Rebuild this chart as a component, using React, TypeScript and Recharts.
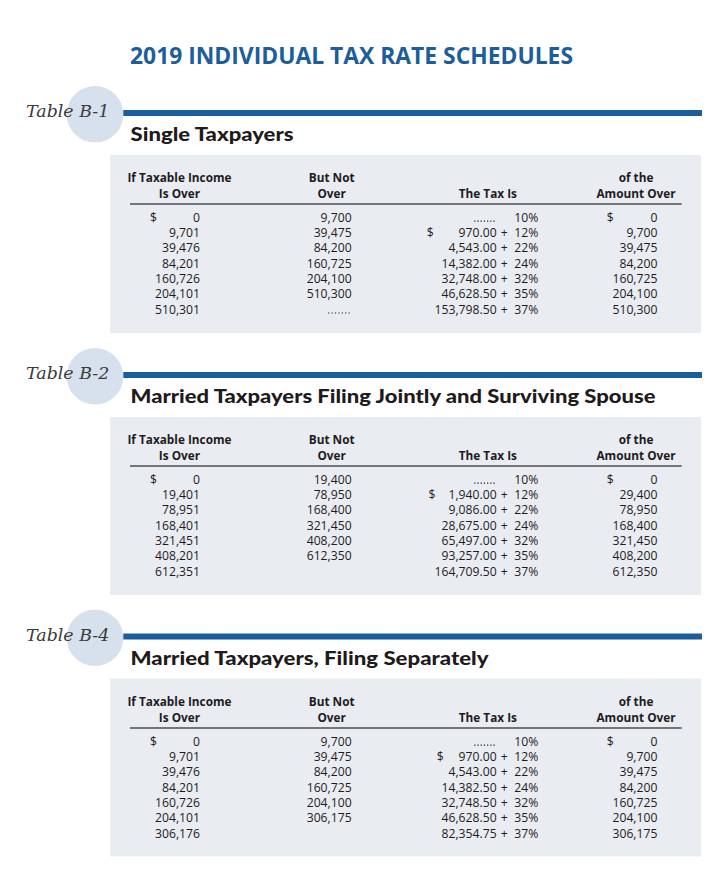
import React from 'react';
import { ScatterChart, Scatter, XAxis, YAxis } from 'recharts';

// ---------- data ----------
const pageTitle = '2019 INDIVIDUAL TAX RATE SCHEDULES';
const columnHeaders: string[][] = [
  ['If Taxable Income', 'Is Over'],
  ['But Not', 'Over'],
  ['', 'The Tax Is'],
  ['of the', 'Amount Over'],
];
const rates = [10, 12, 22, 24, 32, 35, 37];

const singleOver = [0, 9701, 39476, 84201, 160726, 204101, 510301];
const singleNotOver = [9700, 39475, 84200, 160725, 204100, 510300, null];
const singleBaseTax = [null, 970.0, 4543.0, 14382.0, 32748.0, 46628.5, 153798.5];
const singleAmountOver = [0, 9700, 39475, 84200, 160725, 204100, 510300];

const jointOver = [0, 19401, 78951, 168401, 321451, 408201, 612351];
const jointNotOver = [19400, 78950, 168400, 321450, 408200, 612350, null];
const jointBaseTax = [null, 1940.0, 9086.0, 28675.0, 65497.0, 93257.0, 164709.5];
const jointAmountOver = [0, 29400, 78950, 168400, 321450, 408200, 612350];

const separateOver = [0, 9701, 39476, 84201, 160726, 204101, 306176];
const separateNotOver = [9700, 39475, 84200, 160725, 204100, 306175, null];
const separateBaseTax = [null, 970.0, 4543.0, 14382.5, 32748.5, 46628.5, 82354.75];
const separateAmountOver = [0, 9700, 39475, 84200, 160725, 204100, 306175];

const tables = [
  { label: 'Table B-1', title: 'Single Taxpayers', over: singleOver, notOver: singleNotOver, baseTax: singleBaseTax, amountOver: singleAmountOver, openLeader: true },
  { label: 'Table B-2', title: 'Married Taxpayers Filing Jointly and Surviving Spouse', over: jointOver, notOver: jointNotOver, baseTax: jointBaseTax, amountOver: jointAmountOver, openLeader: false },
  { label: 'Table B-4', title: 'Married Taxpayers, Filing Separately', over: separateOver, notOver: separateNotOver, baseTax: separateBaseTax, amountOver: separateAmountOver, openLeader: false },
];

// ---------- layout / style ----------
const SECTION_OFFSETS = [0, 262, 523.5];
const TITLE_WIDTHS = [163, 525, 358];
const TAX_DOLLAR_DX = [-57.2, -55.4, -47.2];
const BLUE = '#1b5e9b';
const TEXT = '#1f1b1c';
const PANEL = '#e9edf2';
const CIRCLE = '#d6e1ed';
const FONT = "'Open Sans', 'Noto Sans', sans-serif";

const fmtInt = (v: number) => v.toLocaleString('en-US');
const fmtMoney = (v: number) =>
  v.toLocaleString('en-US', { minimumFractionDigits: 2, maximumFractionDigits: 2 });

type CellDatum = {
  col: number;
  row: number;
  value: number | null;
  rate?: number;
  dollar: boolean;
  leader: boolean;
  dollarDx: number;
};

function buildCells(t: (typeof tables)[number], tableIndex: number): CellDatum[] {
  const cells: CellDatum[] = [];
  t.over.forEach((_, i) => {
    cells.push({ col: 0, row: i, value: t.over[i], dollar: i === 0, leader: false, dollarDx: -29.5 });
    if (t.notOver[i] !== null || t.openLeader) {
      cells.push({ col: 1, row: i, value: t.notOver[i], dollar: false, leader: t.notOver[i] === null, dollarDx: 0 });
    }
    cells.push({ col: 2, row: i, value: t.baseTax[i], rate: rates[i], dollar: i === 1, leader: t.baseTax[i] === null, dollarDx: TAX_DOLLAR_DX[tableIndex] });
    cells.push({ col: 3, row: i, value: t.amountOver[i], dollar: i === 0, leader: false, dollarDx: -29.4 });
  });
  return cells;
}

const textProps = { fontFamily: FONT, fontSize: 12.2, fontWeight: 500, fill: TEXT };

const CellShape = (props: any) => {
  const { cx, cy } = props;
  const d: CellDatum = props.payload ?? props;
  if (cx == null || cy == null) return null;
  const by = cy + 4.3;
  const parts: React.ReactNode[] = [];
  if (d.col === 0 || d.col === 1 || d.col === 3) {
    const rightDx = d.col === 0 ? 20.5 : d.col === 1 ? 20 : 21.4;
    if (d.leader) {
      parts.push(
        <line key="l" x1={cx + rightDx - 23.5} x2={cx + rightDx} y1={by - 0.6} y2={by - 0.6}
          stroke={TEXT} strokeWidth={1.2} strokeDasharray="1.2 2.2" />
      );
    } else if (d.value !== null) {
      parts.push(<text key="v" x={cx + rightDx} y={by} textAnchor="end" {...textProps}>{fmtInt(d.value)}</text>);
    }
    if (d.dollar) {
      parts.push(<text key="d" x={cx + d.dollarDx} y={by} textAnchor="start" {...textProps}>$</text>);
    }
  } else {
    if (d.leader) {
      parts.push(
        <line key="l" x1={cx - 9.6} x2={cx + 12.4} y1={by - 0.6} y2={by - 0.6}
          stroke={TEXT} strokeWidth={1.2} strokeDasharray="1.2 2.0" />
      );
    } else if (d.value !== null) {
      parts.push(<text key="v" x={cx + 12.8} y={by} textAnchor="end" {...textProps}>{fmtMoney(d.value)}</text>);
      parts.push(<text key="p" x={cx + 20.3} y={by} textAnchor="middle" {...textProps} fontWeight={400}>+</text>);
    }
    parts.push(<text key="r" x={cx + 54.4} y={by} textAnchor="end" {...textProps}>{`${d.rate}%`}</text>);
    if (d.dollar) {
      parts.push(<text key="d" x={cx + d.dollarDx} y={by} textAnchor="start" {...textProps}>$</text>);
    }
  }
  return <g>{parts}</g>;
};

const HEADER_DX = [0, 0, 4, 0];

const HeaderTick = (props: any) => {
  const { x, y, payload } = props;
  const idx = Math.round(payload.value);
  const lines = columnHeaders[idx] || ['', ''];
  const hx = x + HEADER_DX[idx];
  const common = { fontFamily: FONT, fontSize: 11.8, fontWeight: 700, fill: TEXT, textAnchor: 'middle' as const };
  return (
    <g>
      {lines[0] ? <text x={hx} y={y - 22.4} {...common}>{lines[0]}</text> : null}
      <text x={hx} y={y - 6.4} {...common}>{lines[1]}</text>
    </g>
  );
};

const TaxTable = ({ table, index }: { table: (typeof tables)[number]; index: number }) => {
  const cells = buildCells(table, index);
  return (
    <ScatterChart width={591} height={178} margin={{ top: 0, right: 19.3, bottom: 8.4, left: 20 }}>
      <XAxis
        type="number"
        dataKey="col"
        domain={[-0.325, 3.3]}
        ticks={[0, 1, 2, 3]}
        interval={0}
        orientation="top"
        height={49}
        tickSize={0}
        tickMargin={0}
        tickLine={false}
        axisLine={{ stroke: '#4d4d4f', strokeWidth: 1.5 }}
        tick={<HeaderTick />}
      />
      <YAxis type="number" dataKey="row" domain={[-0.87, 7]} reversed hide />
      <Scatter data={cells} shape={<CellShape />} isAnimationActive={false} />
    </ScatterChart>
  );
};

export default function App() {
  return (
    <div style={{ position: 'absolute', left: 0, top: 0, width: 718, height: 883, background: '#fff', overflow: 'hidden' }}>
      <svg width={718} height={883} style={{ position: 'absolute', left: 0, top: 0 }}>
        <text x={130} y={64.3} fontFamily={FONT} fontWeight={700} fontSize={22.5} fill={BLUE}
          textLength={443} lengthAdjust="spacingAndGlyphs">{pageTitle}</text>
        {tables.map((t, i) => {
          const o = SECTION_OFFSETS[i];
          return (
            <g key={t.label}>
              <rect x={110} y={155 + o} width={591} height={178} fill={PANEL} />
              <circle cx={95} cy={114.3 + o} r={28.3} fill={CIRCLE} />
              <rect x={123.3} y={110 + o} width={578.7} height={6} fill={BLUE} />
              <text x={26} y={117.3 + o} fontFamily="'DejaVu Serif', serif" fontStyle="italic" fontSize={17}
                fill="#3a3a3a" textLength={83.3} lengthAdjust="spacingAndGlyphs">{t.label}</text>
              <text x={130.5} y={141 + o} fontFamily="Lato, 'Open Sans', sans-serif" fontWeight={900} fontSize={19.5}
                fill={TEXT} textLength={TITLE_WIDTHS[i]} lengthAdjust="spacingAndGlyphs">{t.title}</text>
            </g>
          );
        })}
      </svg>
      {tables.map((t, i) => (
        <div key={t.label} style={{ position: 'absolute', left: 110, top: 155 + SECTION_OFFSETS[i], width: 591, height: 178 }}>
          <TaxTable table={t} index={i} />
        </div>
      ))}
    </div>
  );
}
